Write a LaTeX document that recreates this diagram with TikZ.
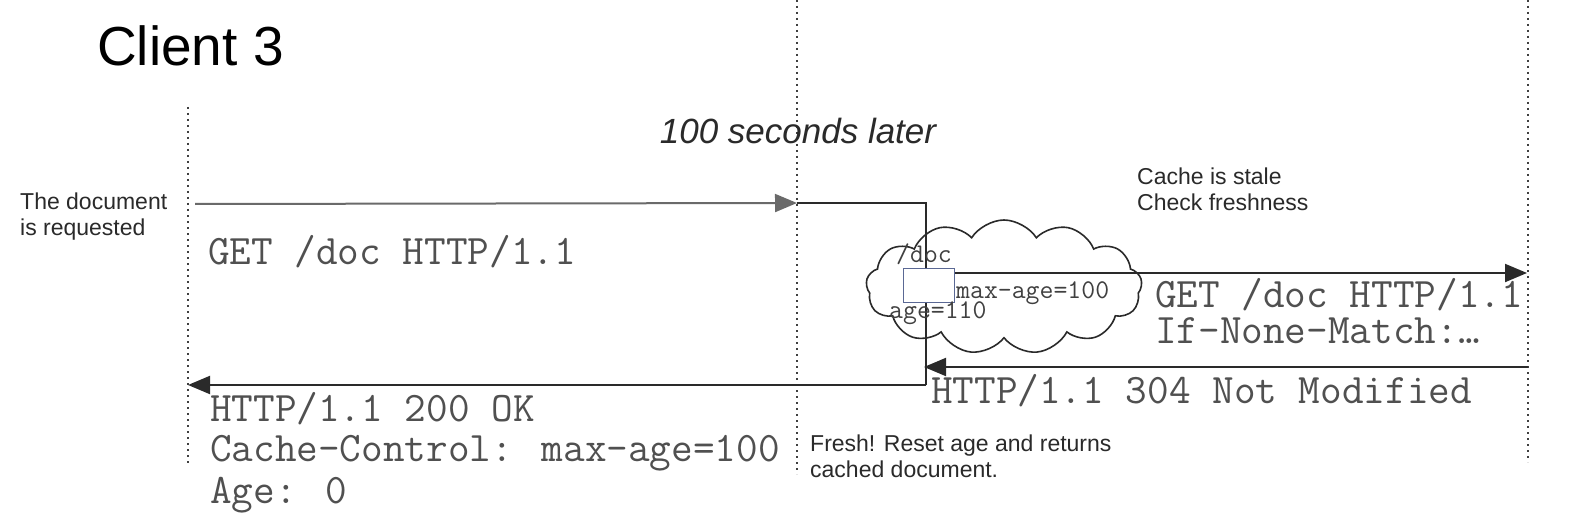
\documentclass[tikz,border=0pt]{standalone}
\usepackage{fontspec}
\setmainfont{Liberation Sans}
\usetikzlibrary{arrows.meta,shapes.symbols}
\definecolor{linecol}{HTML}{2A2A2A}
\definecolor{monocol}{HTML}{505050}
\definecolor{boxcol}{HTML}{5A6894}
\tikzset{
  lifeline/.style={draw=linecol!90, line width=2.4pt, dash pattern=on 2.4pt off 3.6pt},
  msg/.style={draw=linecol, line width=2pt},
  msgarrow/.style={msg, -{Triangle[length=22pt,width=18pt]}},
  mono/.style={font=\ttfamily\fontsize{42}{40}\selectfont, text=monocol, anchor=base west, inner sep=0pt, align=left},
  smallmono/.style={font=\ttfamily\fontsize{27}{28}\selectfont, text=monocol!80!black, anchor=base west, inner sep=0pt},
  note/.style={font=\fontsize{23}{26}\selectfont, text=linecol, anchor=base west, inner sep=0pt, align=left},
}
\begin{document}
\begin{tikzpicture}[x=1pt,y=-1pt]
\useasboundingbox[fill=white] (0,0) rectangle (1591,532);
% lifelines
\coordinate (cT) at (188,107); \coordinate (cB) at (188,465);
\coordinate (pT) at (797,0);   \coordinate (pB) at (797,474);
\coordinate (sT) at (1528,0);  \coordinate (sB) at (1528,462);
\draw[lifeline] (cT) -- (cB);
\draw[lifeline] (pT) -- (pB);
\draw[lifeline] (sT) -- (sB);
% cloud
\node[cloud, cloud puffs=13, cloud puff arc=115, aspect=2.1, draw=linecol, line width=1.6pt, fill=white,
      minimum width=276pt, minimum height=134pt, inner sep=0pt] (cloud) at (1004,287) {};
% messages
\coordinate (c1) at (195,204);
\coordinate (p1) at (797,203);
\coordinate (k1) at (926,203);
\coordinate (k2) at (926,385);
\coordinate (c2) at (188,385);
\coordinate (s1) at (1527,273);
\coordinate (s2) at (1528,367);
\coordinate (k3) at (924,367);
\draw[msgarrow, draw=linecol!70] (c1) -- (p1);
\draw[msg] (p1) -- (k1) -- (k2);
\draw[msgarrow] (k2) -- (c2);
\draw[msgarrow] (s2) -- (k3);
% cached doc box
\node[draw=boxcol, line width=1.6pt, fill=white, minimum width=51pt, minimum height=34pt, inner sep=0pt] (box) at (929,285.5) {};
\draw[msgarrow] (box.east |- s1) -- (s1);
% texts
\node[font=\fontsize{55}{60}\selectfont, anchor=base west, inner sep=0pt] (title) at (97,66) {Client 3};
\node[font=\itshape\fontsize{35}{40}\selectfont, text=linecol, anchor=base, inner sep=0pt] (later) at (798,144) {100 seconds later};
\node[note] (req) at (20,235) {The document\\is requested};
\node[note] (stale) at (1137,211) {Cache is stale\\Check freshness};
\node[note] (fresh) at (810,477) {Fresh! Reset age and returns\\cached document.};
\node[mono] (get1) at (208,264) {GET /doc HTTP/1.1};
\node[mono] (resp1) at (210,503) {HTTP/1.1 200 OK\\Cache-Control: max-age=100\\[2pt]Age: 0};
\node[mono] (get2) at (1155,343) {GET /doc HTTP/1.1\\[-4pt]If-None-Match:…};
\node[mono] (resp2) at (931,403) {HTTP/1.1 304 Not Modified};
\node[smallmono] (docl) at (896,262) {/doc};
\node[smallmono] (maxage) at (956,298) {max-age=100};
\node[smallmono] (agel) at (889,318) {age=110};
\end{tikzpicture}
\end{document}
